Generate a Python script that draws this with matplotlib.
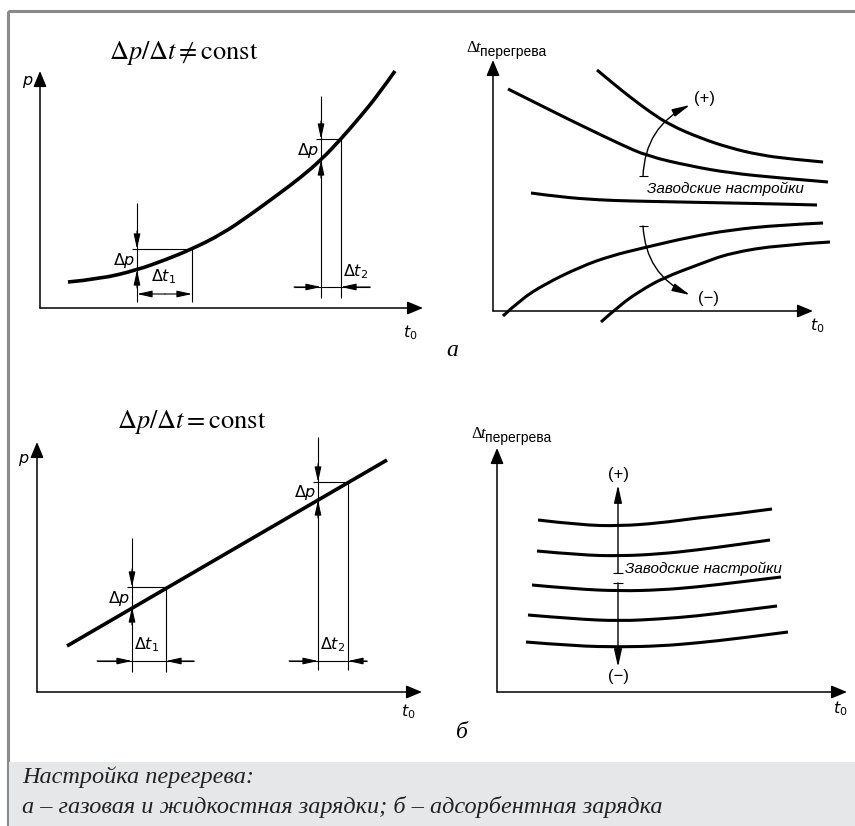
import matplotlib.pyplot as plt
from matplotlib.patches import Rectangle, PathPatch
from matplotlib.path import Path

plt.rcParams["mathtext.fontset"] = "custom"
plt.rcParams["mathtext.rm"] = "Liberation Sans Narrow"
plt.rcParams["mathtext.it"] = "Liberation Sans Narrow:italic"

SANS = ["Liberation Sans Narrow", "Liberation Sans", "DejaVu Sans"]
SERIF = ["Liberation Serif", "DejaVu Serif"]

# --- panel a, left: nonlinear p(t0)
a_left_x = [68, 100, 137, 165, 192, 222, 250, 280, 300, 321, 341, 360, 378, 395]
a_left_y = [282, 279, 270, 260, 249, 234, 215, 193, 178, 160, 139, 117, 95, 71]

# --- panel a, right: superheat curves
a_right_curves = [
    ([597, 615, 630, 650, 670, 700, 730, 760, 790, 823],
     [70, 85, 97, 112, 125, 138, 148, 155, 159, 162]),
    ([508, 540, 570, 597, 620, 647, 690, 730, 780, 828],
     [89, 105, 120, 133, 144, 156, 166, 173, 178, 182]),
    ([531, 560, 600, 630, 680, 730, 780, 817],
     [193, 197, 200, 201, 202, 203, 204, 205]),
    ([503, 520, 545, 580, 610, 647, 690, 730, 780, 823],
     [316, 300, 284, 267, 256, 247, 237, 230, 225, 223]),
    ([601, 620, 640, 663, 700, 730, 780, 830],
     [322, 305, 291, 278, 264, 253, 245, 242]),
]

# --- panel b, left: linear p(t0)
b_left_x = [67, 387]
b_left_y = [646, 460]

# --- panel b, right: superheat curves
b_right_curves = [
    ([538, 580, 620, 660, 697, 735, 772], [520, 525, 526, 523, 518, 514, 509]),
    ([537, 580, 620, 660, 697, 735, 770], [551, 555, 556, 554, 550, 545, 540]),
    ([532, 575, 620, 660, 697, 740, 781], [585, 589, 591, 590, 587, 582, 577]),
    ([528, 575, 620, 660, 697, 737, 777], [615, 619, 621, 619, 616, 611, 606]),
    ([526, 575, 620, 660, 697, 742, 788], [642, 646, 647, 646, 643, 638, 632]),
]

title_a = r"$\Delta p/\Delta t \neq \mathrm{const}$"
title_b = r"$\Delta p/\Delta t = \mathrm{const}$"
factory_label = "Заводские настройки"
caption_1 = "Настройка перегрева:"
caption_2 = "а – газовая и жидкостная зарядки; б – адсорбентная зарядка"

AXIS_HEAD = "-|>,head_length=0.6,head_width=0.25"
DIM_HEAD = "-|>,head_length=0.9,head_width=0.2"

fig = plt.figure(figsize=(8.55, 8.26), dpi=100)
ax = fig.add_axes([0, 0, 1, 1])
ax.set_xlim(0, 855)
ax.set_ylim(826, 0)
ax.axis("off")

# frame and caption box
ax.add_patch(Rectangle((7.5, 10.5), 860, 830, fill=False, edgecolor="#8a8a8a", lw=2.2))
ax.add_patch(Rectangle((9, 762), 850, 70, facecolor="#e6e7e8", edgecolor="none"))


def curve(xs, ys, lw):
    # smooth quadratic path through the read points (points act as controls)
    pts = list(zip(xs, ys))
    if len(pts) < 3:
        ax.plot(xs, ys, color="k", lw=lw, solid_capstyle="butt")
        return
    verts = [pts[0]]
    codes = [Path.MOVETO]
    for i in range(1, len(pts) - 1):
        if i == len(pts) - 2:
            end = pts[-1]
        else:
            end = ((pts[i][0] + pts[i + 1][0]) / 2, (pts[i][1] + pts[i + 1][1]) / 2)
        verts += [pts[i], end]
        codes += [Path.CURVE3, Path.CURVE3]
    ax.add_patch(PathPatch(Path(verts, codes), fill=False, edgecolor="k", lw=lw,
                           capstyle="butt"))


def arrow(x0, y0, x1, y1, scale=16, lw=1.1, style=AXIS_HEAD, rad=0.0):
    ax.annotate("", xy=(x1, y1), xytext=(x0, y0),
                arrowprops=dict(arrowstyle=style, lw=lw, color="k",
                                mutation_scale=scale, shrinkA=0, shrinkB=0,
                                connectionstyle=f"arc3,rad={rad}"))


def dim(x0, y0, x1, y1):
    arrow(x0, y0, x1, y1, scale=10, lw=0.8, style=DIM_HEAD)


def thin(xs, ys):
    ax.plot(xs, ys, color="k", lw=0.8, solid_capstyle="butt")


def frame_axes(ox, oy, xtip, ytip):
    arrow(ox, oy, xtip, oy)
    arrow(ox, oy, ox, ytip)


def small(x, y, s, ha="center", size=11.5):
    ax.text(x, y, s, ha=ha, va="center", fontsize=size, family=SANS)


def superheat_label(x, y):
    ax.text(x, y, "Δ", ha="left", va="baseline", fontsize=12, family=SERIF)
    ax.text(x + 9, y, "t", ha="left", va="baseline", fontsize=12, family=SERIF, style="italic")
    ax.text(x + 14, y + 4, "перегрева", ha="left", va="baseline", fontsize=10, family="Liberation Sans")


def delta_p(xv, ytop, yh, yc, ybot, xr, label_y):
    # vertical extension line with two arrows pointing at the level lines
    thin([xv, xv], [ytop, ybot])
    dim(xv, yh - 18, xv, yh)
    dim(xv, yc + 18, xv, yc)
    thin([xv - 5, xr], [yh, yh])
    thin([xr, xr], [yh, ybot])
    small(xv - 2, label_y, r"$\Delta p$", ha="right")


# ===== panel a, left
frame_axes(40, 308, 423, 71)
small(28, 82, r"$p$")
small(410, 333, r"$t_0$")
ax.text(184, 53, title_a, ha="center", va="center", fontsize=19, math_fontfamily="stix")
curve(a_left_x, a_left_y, 2.6)

delta_p(137, 203, 249, 270, 302, 192, 260)
dim(165, 294, 192, 294)
dim(165, 294, 137, 294)
small(164, 277, r"$\Delta t_1$")

delta_p(321, 96, 139, 160, 298, 341, 151)
thin([294, 370], [287, 287])
dim(294, 287, 321, 287)
dim(370, 287, 341, 287)
small(356, 272, r"$\Delta t_2$")

# ===== panel a, right
frame_axes(493, 311, 813, 60)
superheat_label(466, 52)
small(817, 326, r"$t_0$")
for xs, ys in a_right_curves:
    curve(xs, ys, 2.2)
thin([639, 648], [176, 176])
arrow(643, 176, 690, 105, scale=12, lw=1.0, style=DIM_HEAD, rad=-0.3)
thin([639, 648], [226, 226])
arrow(643, 226, 690, 295, scale=12, lw=1.0, style=DIM_HEAD, rad=0.3)
small(704, 98, "(+)", size=12)
small(708, 298, "(−)", size=12)
ax.text(647, 189, factory_label, ha="left", va="center", fontsize=11,
        family="Liberation Sans", style="italic")
ax.text(452, 350, "а", ha="center", va="center", fontsize=17, family=SERIF, style="italic")

# ===== panel b, left
frame_axes(37, 692, 422, 442)
small(24, 460, r"$p$")
small(408, 712, r"$t_0$")
ax.text(192, 422, title_b, ha="center", va="center", fontsize=19, math_fontfamily="stix")
curve(b_left_x, b_left_y, 2.6)

delta_p(132, 538, 587, 607, 672, 166, 598)
thin([97, 194], [661, 661])
dim(97, 661, 132, 661)
dim(194, 661, 166, 661)
small(147, 645, r"$\Delta t_1$")

delta_p(318, 437, 482, 500, 670, 348, 493)
thin([289, 367], [661, 661])
dim(289, 661, 318, 661)
dim(367, 661, 348, 661)
small(333, 645, r"$\Delta t_2$")

# ===== panel b, right
frame_axes(497, 692, 847, 448)
superheat_label(471, 438)
small(840, 709, r"$t_0$")
for xs, ys in b_right_curves:
    curve(xs, ys, 2.2)
thin([613, 623], [573, 573])
arrow(618, 573, 618, 485, scale=12, lw=1.0, style=DIM_HEAD)
thin([613, 623], [583, 583])
arrow(618, 583, 618, 667, scale=12, lw=1.0, style=DIM_HEAD)
small(618, 474, "(+)", size=12)
small(618, 677, "(−)", size=12)
ax.text(625, 569, factory_label, ha="left", va="center", fontsize=11,
        family="Liberation Sans", style="italic")
ax.text(462, 732, "б", ha="center", va="center", fontsize=17, family=SERIF, style="italic")

# ===== caption
ax.text(22, 777, caption_1, ha="left", va="center", fontsize=17.5, family=SERIF,
        style="italic", color="#222222")
ax.text(22, 807, caption_2, ha="left", va="center", fontsize=17.5, family=SERIF,
        style="italic", color="#222222")

fig.savefig("out.png", dpi=100)
